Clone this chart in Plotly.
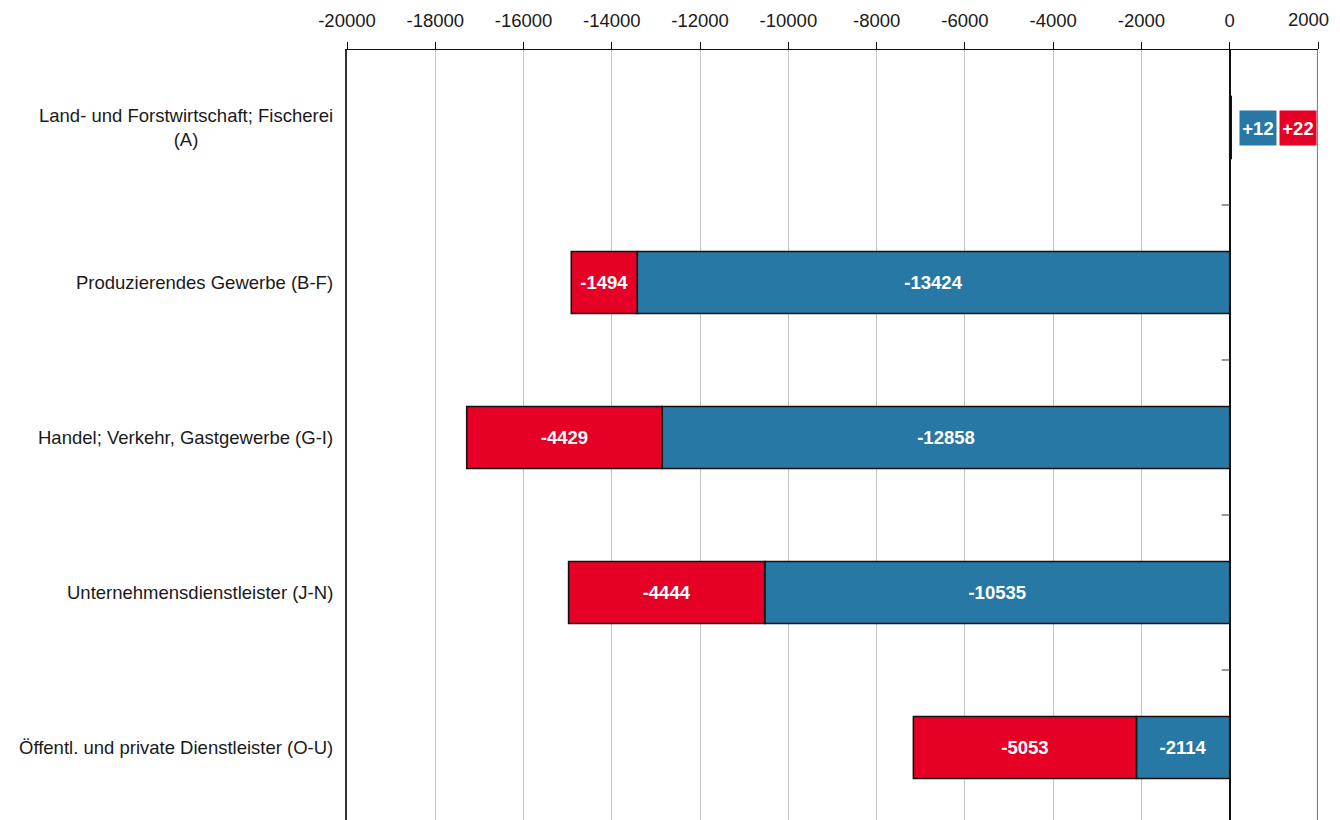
import plotly.graph_objects as go

categories = [
    "Land- und Forstwirtschaft; Fischerei<br>(A)",
    "Produzierendes Gewerbe (B-F)",
    "Handel; Verkehr, Gastgewerbe (G-I)",
    "Unternehmensdienstleister (J-N)",
    "Öffentl. und private Dienstleister (O-U)",
]
blue_values = [12, -13424, -12858, -10535, -2114]
red_values = [22, -1494, -4429, -4444, -5053]
x_ticks = list(range(-20000, 2001, 2000))

BLUE = "#2878a6"
RED = "#e60026"
FONT = "Liberation Sans, Arial, Helvetica, sans-serif"
FS = 18.5


def lbl(v):
    if abs(v) < 100:
        return ""
    return f"{v:+d}" if v > 0 else str(v)


fig = go.Figure()
for vals, col in ((blue_values, BLUE), (red_values, RED)):
    fig.add_trace(go.Bar(
        y=categories, x=vals, orientation="h",
        marker=dict(color=col, line=dict(color="#111111", width=1.6)),
        width=0.4,
        text=[lbl(v) for v in vals],
        textposition="inside", insidetextanchor="middle",
        textfont=dict(family=FONT, size=FS, color="white", weight="bold"),
        constraintext="none",
        showlegend=False, hoverinfo="x+y",
    ))

annotations = []
# category labels (centered multi-line)
for c in categories:
    annotations.append(dict(
        x=0, xref="paper", y=c, yref="y", text=c, showarrow=False,
        xanchor="right", xshift=-12, align="center",
        font=dict(family=FONT, size=FS, color="#1a1a1a"),
    ))
# small positive values, shown outside as boxes
small = [(i, v, BLUE) for i, v in enumerate(blue_values) if abs(v) < 100] + \
        [(i, v, RED) for i, v in enumerate(red_values) if abs(v) < 100]
for k, (i, v, col) in enumerate(small):
    total = blue_values[i] + red_values[i]
    annotations.append(dict(
        x=total, xref="x", y=categories[i], yref="y",
        text=f"<b>{v:+d}</b>", showarrow=False,
        xanchor="left", xshift=8 + k * 40,
        width=34, height=32, bgcolor=col,
        font=dict(family=FONT, size=FS, color="white"),
    ))
# last tick label at the right edge, kept inside the page
annotations.append(dict(
    x=x_ticks[-1], xref="x", y=1, yref="paper", text=str(x_ticks[-1]),
    showarrow=False, xanchor="right", xshift=13, yanchor="middle", yshift=31,
    font=dict(family=FONT, size=FS, color="#1a1a1a"),
))

shapes = []
for k in range(len(categories) - 1):
    shapes.append(dict(
        type="line", xref="x", yref="y", xsizemode="pixel", xanchor=0,
        x0=-8, x1=0, y0=k + 0.5, y1=k + 0.5,
        line=dict(color="#555555", width=1.2),
    ))
shapes.append(dict(
    type="line", xref="x", yref="paper", x0=x_ticks[-1], x1=x_ticks[-1], y0=0, y1=1,
    line=dict(color="#808080", width=2.2),
))

fig.update_layout(
    width=1332, height=812,
    barmode="relative",
    bargap=0.6,
    plot_bgcolor="white", paper_bgcolor="white",
    margin=dict(l=339, r=22, t=42, b=0),
    font=dict(family=FONT, size=FS, color="#1a1a1a"),
    annotations=annotations,
    shapes=shapes,
    xaxis=dict(
        side="top", range=[x_ticks[0], x_ticks[-1]],
        tickvals=x_ticks, ticktext=[str(t) for t in x_ticks[:-1]] + [""],
        showline=True, linecolor="#111111", linewidth=1.4,
        ticks="outside", ticklen=7, tickcolor="#111111", tickwidth=1,
        ticklabelstandoff=7,
        showgrid=True, gridcolor="#c4c4c4", gridwidth=1.2,
        zeroline=True, zerolinecolor="#111111", zerolinewidth=1.6,
        tickfont=dict(family=FONT, size=FS, color="#1a1a1a"),
        fixedrange=True,
    ),
    yaxis=dict(
        type="category", categoryorder="array", categoryarray=categories,
        range=[len(categories) - 0.532, -0.5],
        showticklabels=False, ticks="",
        showline=True, linecolor="#333333", linewidth=2,
        showgrid=False, zeroline=False, fixedrange=True,
    ),
)

fig.write_html("out.html")
